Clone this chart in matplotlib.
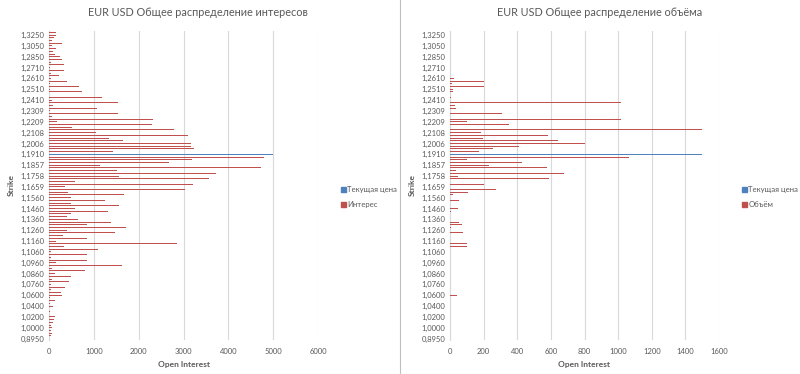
import matplotlib
matplotlib.use('Agg')
import matplotlib.pyplot as plt
from matplotlib.patches import Patch
from matplotlib.lines import Line2D
import numpy as np

plt.rcParams['font.family'] = ['Lato', 'Open Sans', 'DejaVu Sans']

# tick labels, shown on every 4th category (bottom -> top)
strike_labels = ['0,8950', '1,0000', '1,0200', '1,0400', '1,0600', '1,0760', '1,0860',
                 '1,0960', '1,1060', '1,1160', '1,1260', '1,1360', '1,1460', '1,1560',
                 '1,1659', '1,1758', '1,1857', '1,1910', '1,2006', '1,2108', '1,2209',
                 '1,2309', '1,2410', '1,2510', '1,2610', '1,2710', '1,2850', '1,3050',
                 '1,3250']
n_cat = 114
price_idx = 68

# open interest per category, bottom -> top
interest = [0, 52, 67, 45, 67, 45, 82, 111, 134, 0,
            15, 0, 82, 30, 126, 22, 282, 260, 37, 349,
            52, 446, 67, 483, 126, 795, 67, 1634, 149, 840,
            45, 847, 37, 1085, 327, 2845, 149, 847, 319, 1464,
            409, 1709, 840, 1382, 646, 394, 483, 1308, 580, 1553,
            483, 1248, 483, 1679, 431, 3039, 349, 3210, 580, 3566,
            1560, 3722, 1523, 4725, 1137, 2675, 3180, 4792, 0, 1434,
            3232, 3157, 3157, 1649, 1337, 3098, 1040, 2793, 505, 2296,
            171, 2318, 74, 1538, 15, 1070, 97, 1538, 67, 1181,
            0, 736, 22, 669, 22, 394, 37, 215, 37, 334,
            22, 327, 52, 297, 238, 134, 89, 156, 67, 282,
            67, 111, 156, 156]

# volume per category, bottom -> top
volume = [0] * n_cat
volume_points = {16: 40, 34: 100, 35: 100, 39: 79, 41: 5, 42: 71, 43: 53,
                 47: 5, 48: 45, 51: 53, 53: 16, 54: 105, 55: 272, 57: 200,
                 59: 590, 60: 45, 61: 680, 62: 35, 63: 575, 64: 232, 65: 427,
                 66: 100, 67: 1067, 69: 172, 70: 257, 71: 412, 72: 800,
                 73: 640, 74: 194, 75: 580, 76: 185, 77: 1500, 79: 350,
                 80: 100, 81: 1020, 83: 310, 85: 35, 86: 30, 87: 1015,
                 89: 5, 91: 15, 92: 20, 93: 200, 94: 14, 95: 200, 96: 24}
for k, v in volume_points.items():
  volume[k] = v

price_left = 5000
price_right = 1500

red = '#c0504d'
blue = '#4f81bd'
grid_c = '#d9d9d9'
text_c = '#595959'


def draw_panel(ax, values, price_val, xmax, xstep, title, title_x, series_name):
  cats = np.arange(n_cat)
  ax.barh(cats, values, height=0.36, color=red, zorder=3)
  ax.barh([price_idx + 0.1], [price_val], height=0.36, color=blue, zorder=3)
  ax.set_ylim(-0.5, n_cat - 0.5)
  ax.set_xlim(0, xmax)
  ax.set_xticks(np.arange(0, xmax + 1, xstep))
  ax.set_yticks(np.arange(0, n_cat, 4))
  ax.set_yticklabels(strike_labels)
  ax.tick_params(axis='both', length=0, labelsize=5.5, colors=text_c)
  ax.tick_params(axis='x', pad=6)
  ax.grid(axis='x', color=grid_c, linewidth=0.8, zorder=0)
  for s in ['top', 'right', 'bottom']:
    ax.spines[s].set_visible(False)
  ax.spines['left'].set_color(grid_c)
  fig.text(title_x, 1 - 12 / 374, title, fontsize=7.8, color=text_c, ha='center', va='center')
  ax.set_xlabel('Open Interest', fontsize=6, fontweight='bold', color=text_c, labelpad=4)
  ax.set_ylabel('Strike', fontsize=6, fontweight='bold', color=text_c, labelpad=4)
  handles = [Patch(color=blue, label='Текущая цена'), Patch(color=red, label=series_name)]
  ax.legend(handles=handles, loc='center left', bbox_to_anchor=(1.06, 0.462),
            frameon=False, fontsize=5.6, handlelength=0.6, handleheight=0.6,
            handletextpad=0.2, labelspacing=1.0, labelcolor=text_c)


fig = plt.figure(figsize=(8, 3.74), dpi=100)
ax1 = fig.add_axes([49 / 800, 1 - 340 / 374, (318 - 49) / 800, 309 / 374])
ax2 = fig.add_axes([450 / 800, 1 - 340 / 374, (719 - 450) / 800, 309 / 374])

draw_panel(ax1, interest, price_left, 6000, 1000,
           'EUR USD Общее распределение интересов', 0.2475, 'Интерес')
draw_panel(ax2, volume, price_right, 1600, 200,
           'EUR USD Общее распределение объёма', 0.749, 'Объём')

fig.add_artist(Line2D([0.5, 0.5], [0, 1], transform=fig.transFigure, color='#bfbfbf', linewidth=0.8))

fig.savefig('out.png', dpi=100)
